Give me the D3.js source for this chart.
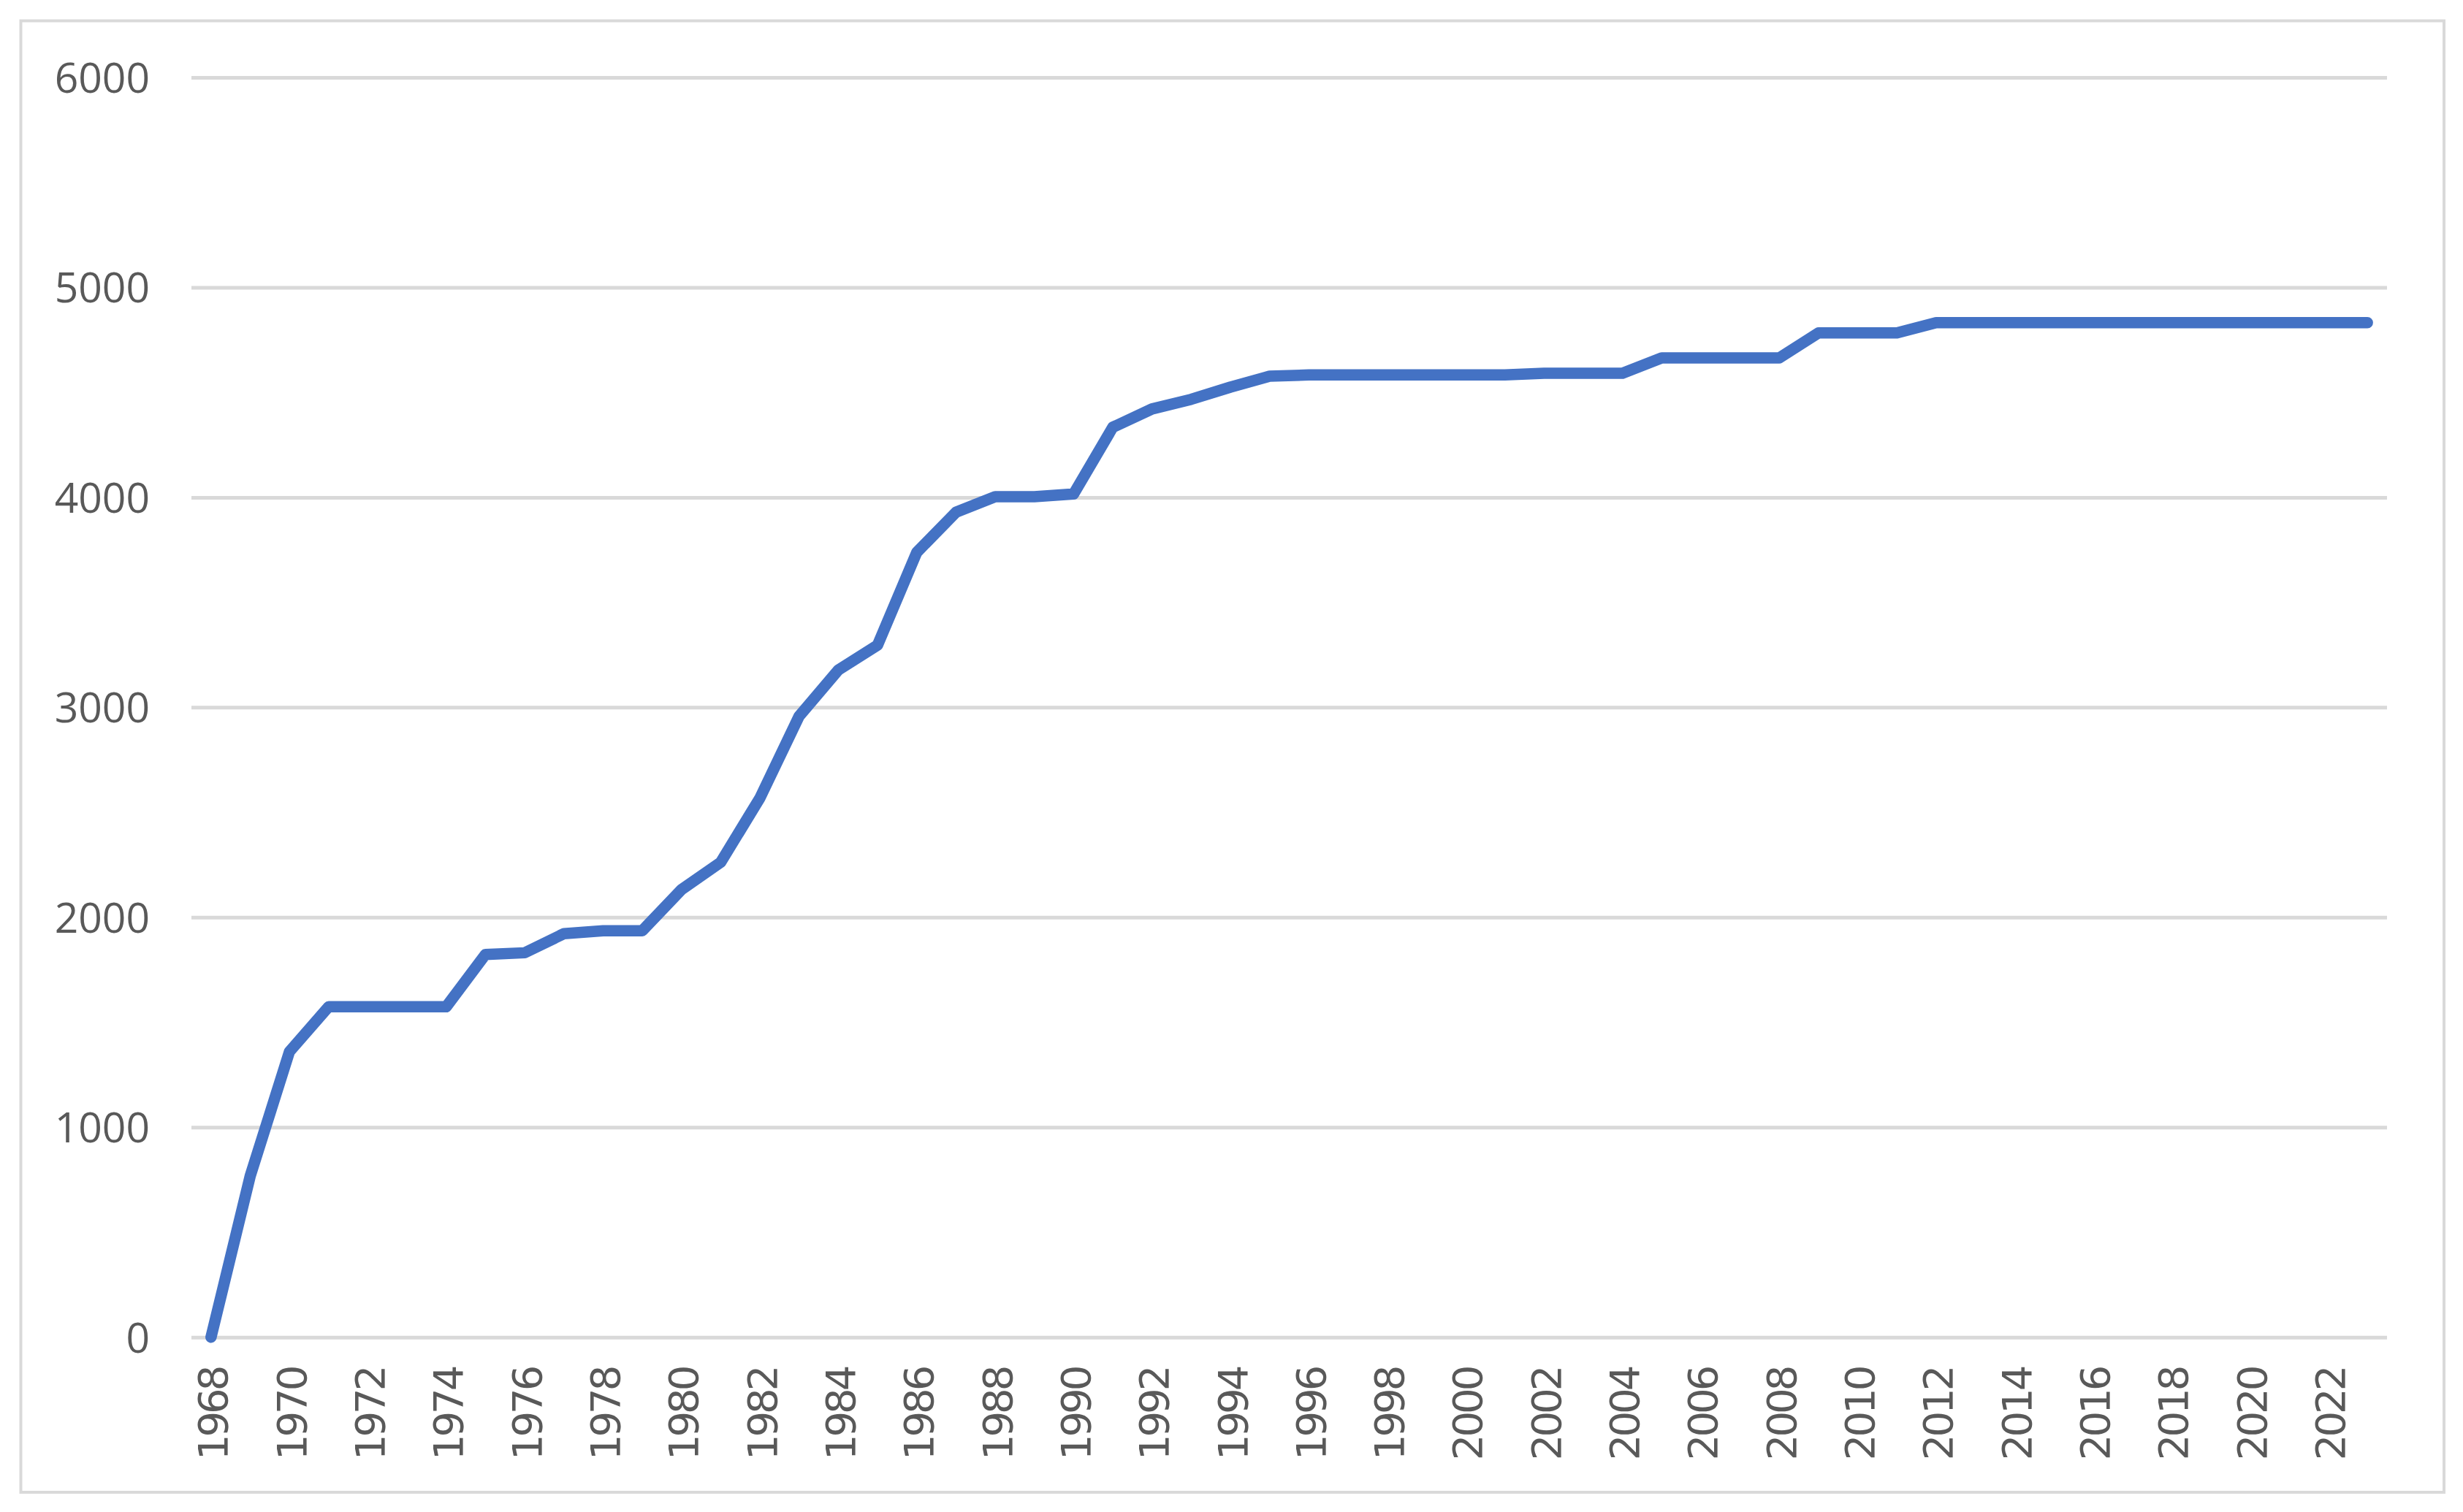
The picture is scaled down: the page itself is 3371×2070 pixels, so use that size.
<!DOCTYPE html>
<html>
<head>
<meta charset="utf-8">
<script src="https://cdn.jsdelivr.net/npm/d3@7"></script>
<style>
  html, body { margin: 0; padding: 0; background: #ffffff; }
  svg { display: block; }
</style>
</head>
<body>
<svg id="chart" width="3371" height="2070"></svg>
<script>
// ---- data ----
const years = ["1968","1969","1970","1971","1972","1973","1974","1975","1976","1977",
  "1978","1979","1980","1981","1982","1983","1984","1985","1986","1987",
  "1988","1989","1990","1991","1992","1993","1994","1995","1996","1997",
  "1998","1999","2000","2001","2002","2003","2004","2005","2006","2007",
  "2008","2009","2010","2011","2012","2013","2014","2015","2016","2017",
  "2018","2019","2020","2021","2022","2023"];
const values = [0, 768, 1360, 1574, 1574, 1574, 1574, 1823, 1831, 1922,
  1936, 1936, 2132, 2262, 2568, 2958, 3178, 3296, 3738, 3929,
  4003, 4003, 4016, 4334, 4421, 4467, 4525, 4577, 4583, 4583,
  4583, 4583, 4583, 4583, 4591, 4591, 4591, 4664, 4664, 4664,
  4664, 4783, 4783, 4783, 4832, 4832, 4832, 4832, 4832, 4832,
  4832, 4832, 4832, 4832, 4832, 4832];
const xTickLabels = ["1968","1970","1972","1974","1976","1978","1980","1982","1984","1986",
  "1988","1990","1992","1994","1996","1998","2000","2002","2004","2006",
  "2008","2010","2012","2014","2016","2018","2020","2022"];
const yTickValues = [0, 1000, 2000, 3000, 4000, 5000, 6000];

// ---- layout ----
const plot = { left: 262, right: 3267, top: 106, bottom: 1830.7 };
const svg = d3.select("#chart");

// chart border
svg.append("rect")
  .attr("x", 28.5).attr("y", 28.5)
  .attr("width", 3316.5).attr("height", 2014.5)
  .attr("fill", "#ffffff")
  .attr("stroke", "#d9d9d9").attr("stroke-width", 4);

const x = d3.scalePoint().domain(years).range([plot.left, plot.right]).padding(0.5);
const y = d3.scaleLinear().domain([0, 6000]).range([plot.bottom, plot.top]);

// y axis + gridlines
const yAxis = svg.append("g")
  .attr("transform", `translate(${plot.left},0)`)
  .call(d3.axisLeft(y).tickValues(yTickValues).tickFormat(d3.format("d"))
    .tickSize(-(plot.right - plot.left)).tickPadding(57));
yAxis.select(".domain").remove();
yAxis.selectAll(".tick line").attr("stroke", "#d9d9d9").attr("stroke-width", 5);
yAxis.selectAll(".tick text")
  .attr("fill", "#595959")
  .attr("font-family", "'Open Sans', 'Noto Sans', sans-serif")
  .attr("font-size", 57)
  .attr("dy", "0.36em");

// x axis labels (rotated)
const xAxis = svg.append("g")
  .attr("transform", `translate(0,${plot.bottom})`)
  .call(d3.axisBottom(x).tickValues(xTickLabels).tickSize(0).tickPadding(0));
xAxis.select(".domain").remove();
xAxis.selectAll(".tick text")
  .attr("fill", "#595959")
  .attr("font-family", "'DejaVu Sans', sans-serif")
  .attr("font-size", 56)
  .attr("letter-spacing", "-4px")
  .attr("text-anchor", "end")
  .attr("dy", null)
  .attr("x", 0)
  .attr("y", 22)
  .attr("transform", "translate(0,42) rotate(-90)");

// line
const line = d3.line()
  .x((d, i) => x(years[i]))
  .y(d => y(d));

svg.append("path")
  .datum(values)
  .attr("d", line)
  .attr("fill", "none")
  .attr("stroke", "#4472c4")
  .attr("stroke-width", 15.5)
  .attr("stroke-linejoin", "round")
  .attr("stroke-linecap", "round");
</script>
</body>
</html>
